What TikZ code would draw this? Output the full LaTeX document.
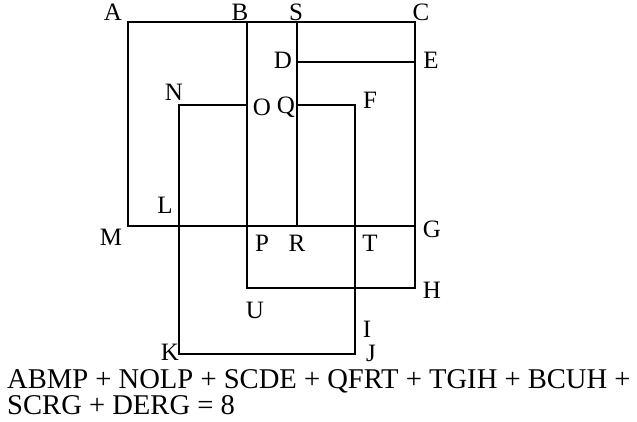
\documentclass[tikz,border=0pt]{standalone}
\usepackage{fontspec}
\setmainfont{Liberation Serif}
\usetikzlibrary{positioning}
\begin{document}
\begin{tikzpicture}[
        x=1pt, y=-1pt,
        edge/.style = {line width=2.8pt, line cap=rect},
        lbl/.style = {font=\fontsize{25}{25}\selectfont, inner sep=0pt},
        sum/.style = {font=\fontsize{28.6}{28.6}\selectfont, inner sep=0pt, anchor=base west}
    ]
    \useasboundingbox (0,0) rectangle (637,422);

    % Corner points
    \coordinate (a) at (128,22);  \coordinate (b) at (247,22);
    \coordinate (s) at (297,22);  \coordinate (c) at (415,22);
    \coordinate (d) at (297,62);  \coordinate (e) at (415,62);
    \coordinate (n) at (179,105); \coordinate (o) at (247,105);
    \coordinate (q) at (297,105); \coordinate (f) at (355,105);
    \coordinate (m) at (128,226); \coordinate (l) at (179,226);
    \coordinate (p) at (247,226); \coordinate (r) at (297,226);
    \coordinate (t) at (355,226); \coordinate (g) at (415,226);
    \coordinate (u) at (247,288); \coordinate (i) at (355,288);
    \coordinate (h) at (415,288);
    \coordinate (k) at (179,354); \coordinate (j) at (355,354);

    % Lines
    \draw[edge] (m) -- (a) -- (c) -- (h) -- (u) -- (b);
    \draw[edge] (m) -- (g);
    \draw[edge] (s) -- (r);
    \draw[edge] (d) -- (e);
    \draw[edge] (o) -- (n) -- (k) -- (j) -- (f) -- (q);

    % Labels
    \node[lbl] (la) at (113,12)  {A};
    \node[lbl] (lb) at (240,12)  {B};
    \node[lbl] (ls) at (296,12)  {S};
    \node[lbl] (lc) at (421,12)  {C};
    \node[lbl] (ld) at (283,60)  {D};
    \node[lbl] (le) at (431,60)  {E};
    \node[lbl] (ln) at (174,92)  {N};
    \node[lbl] (lo) at (262,107) {O};
    \node[lbl] (lq) at (286,107) {Q};
    \node[lbl] (lf) at (370,100) {F};
    \node[lbl] (lm) at (111,237) {M};
    \node[lbl] (ll) at (165,205) {L};
    \node[lbl] (lp) at (262,243) {P};
    \node[lbl] (lr) at (297,243) {R};
    \node[lbl] (lt) at (370,243) {T};
    \node[lbl] (lg) at (432,229) {G};
    \node[lbl] (lh) at (432,290) {H};
    \node[lbl] (lu) at (255,310) {U};
    \node[lbl] (li) at (367,329) {I};
    \node[lbl] (lj) at (371,353) {J};
    \node[lbl] (lk) at (170,352) {K};

    % Sum
    \node[sum] (sum1) at (7,388) {ABMP + NOLP + SCDE + QFRT + TGIH + BCUH +};
    \node[sum] (sum2) at (7,414) {SCRG + DERG = 8};
\end{tikzpicture}
\end{document}
